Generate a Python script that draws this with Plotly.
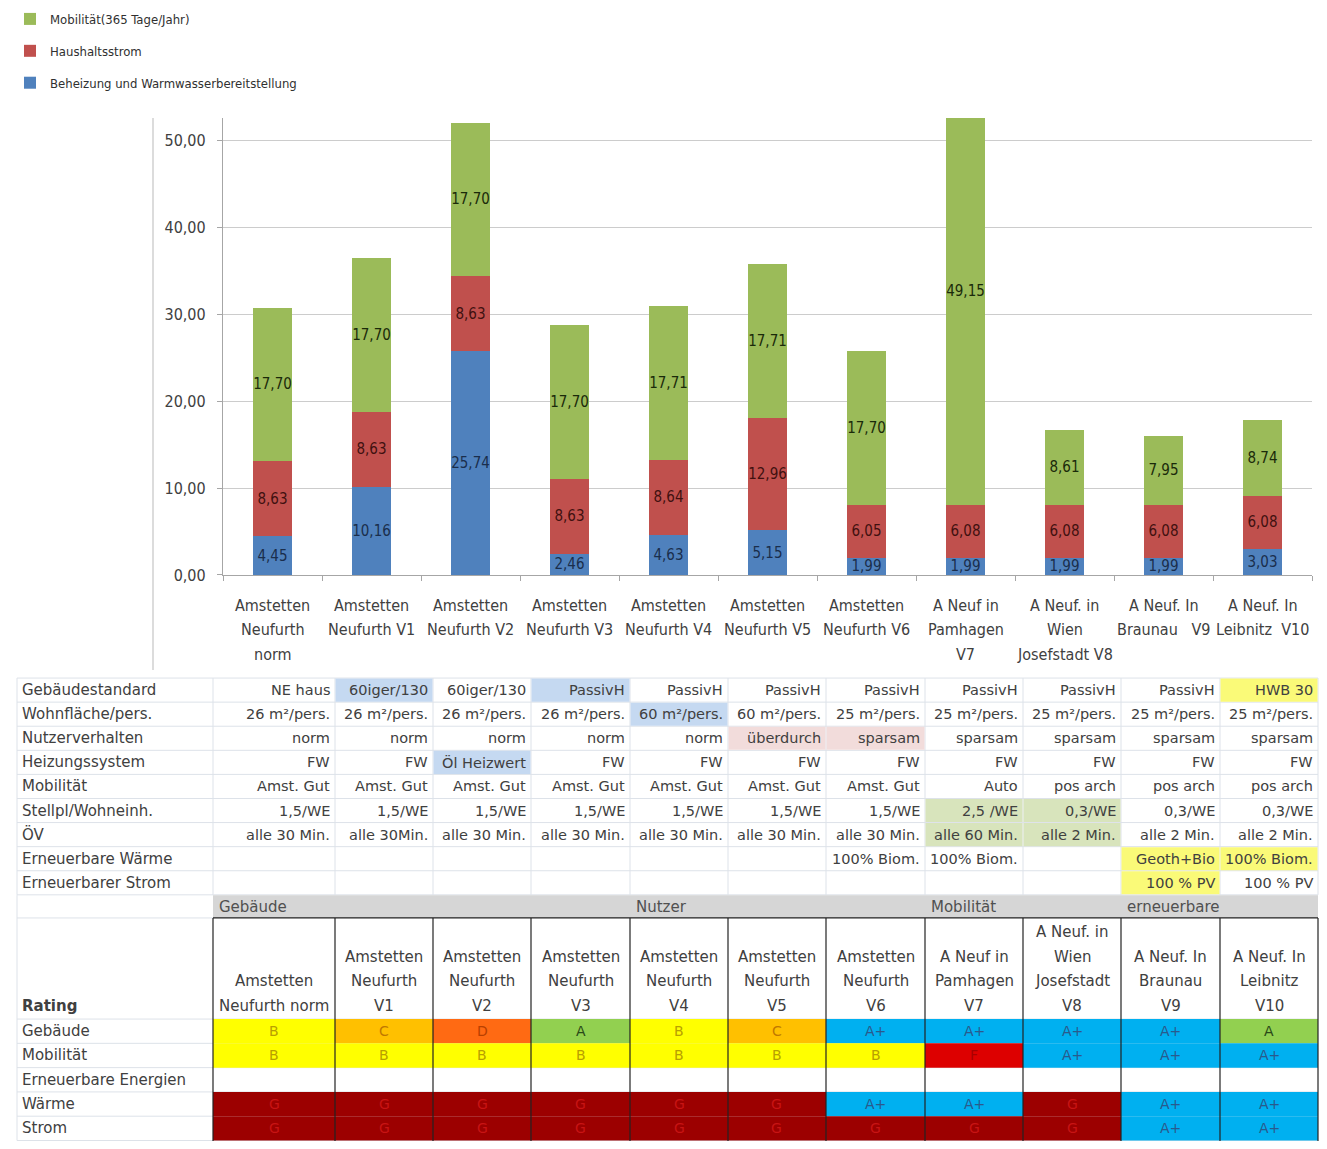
import plotly.graph_objects as go

# ---------------- data ----------------
categories = ["Amstetten Neufurth norm", "Amstetten Neufurth V1", "Amstetten Neufurth V2",
              "Amstetten Neufurth V3", "Amstetten Neufurth V4", "Amstetten Neufurth V5",
              "Amstetten Neufurth V6", "A Neuf in Pamhagen V7", "A Neuf. in Wien Josefstadt V8",
              "A Neuf. In Braunau V9", "A Neuf. In Leibnitz V10"]
category_tick_lines = [["Amstetten", "Neufurth", "norm"],
                       ["Amstetten", "Neufurth V1"],
                       ["Amstetten", "Neufurth V2"],
                       ["Amstetten", "Neufurth V3"],
                       ["Amstetten", "Neufurth V4"],
                       ["Amstetten", "Neufurth V5"],
                       ["Amstetten", "Neufurth V6"],
                       ["A Neuf in", "Pamhagen", "V7"],
                       ["A Neuf. in", "Wien", "Josefstadt V8"],
                       ["A Neuf. In", "Braunau\u00a0\u00a0\u00a0V9"],
                       ["A Neuf. In", "Leibnitz\u00a0\u00a0V10"]]

heizung = [4.45, 10.16, 25.74, 2.46, 4.63, 5.15, 1.99, 1.99, 1.99, 1.99, 3.03]
haushaltsstrom = [8.63, 8.63, 8.63, 8.63, 8.64, 12.96, 6.05, 6.08, 6.08, 6.08, 6.08]
mobilitaet = [17.70, 17.70, 17.70, 17.70, 17.71, 17.71, 17.70, 49.15, 8.61, 7.95, 8.74]
series_names = ["Beheizung und Warmwasserbereitstellung", "Haushaltsstrom", "Mobilität(365 Tage/Jahr)"]
y_ticks = [0, 10, 20, 30, 40, 50]

param_labels = ["Gebäudestandard", "Wohnfläche/pers.", "Nutzerverhalten", "Heizungssystem",
                "Mobilität", "Stellpl/Wohneinh.", "ÖV", "Erneuerbare Wärme", "Erneuerbarer Strom"]
param_rows = [
    ["NE haus", "60iger/130", "60iger/130", "PassivH", "PassivH", "PassivH", "PassivH", "PassivH", "PassivH", "PassivH", "HWB 30"],
    ["26 m²/pers.", "26 m²/pers.", "26 m²/pers.", "26 m²/pers.", "60 m²/pers.", "60 m²/pers.", "25 m²/pers.", "25 m²/pers.", "25 m²/pers.", "25 m²/pers.", "25 m²/pers."],
    ["norm", "norm", "norm", "norm", "norm", "überdurch", "sparsam", "sparsam", "sparsam", "sparsam", "sparsam"],
    ["FW", "FW", "Öl Heizwert", "FW", "FW", "FW", "FW", "FW", "FW", "FW", "FW"],
    ["Amst. Gut", "Amst. Gut", "Amst. Gut", "Amst. Gut", "Amst. Gut", "Amst. Gut", "Amst. Gut", "Auto", "pos arch", "pos arch", "pos arch"],
    ["1,5/WE", "1,5/WE", "1,5/WE", "1,5/WE", "1,5/WE", "1,5/WE", "1,5/WE", "2,5 /WE", "0,3/WE", "0,3/WE", "0,3/WE"],
    ["alle 30 Min.", "alle 30Min.", "alle 30 Min.", "alle 30 Min.", "alle 30 Min.", "alle 30 Min.", "alle 30 Min.", "alle 60 Min.", "alle 2 Min.", "alle 2 Min.", "alle 2 Min."],
    ["", "", "", "", "", "", "100% Biom.", "100% Biom.", "", "Geoth+Bio", "100% Biom."],
    ["", "", "", "", "", "", "", "", "", "100 % PV", "100 % PV"],
]
group_labels = ["Gebäude", "Nutzer", "Mobilität", "erneuerbare"]
group_start_cols = [0, 4, 7, 9]
rating_header_lines = [["Amstetten", "Neufurth norm"],
                       ["Amstetten", "Neufurth", "V1"],
                       ["Amstetten", "Neufurth", "V2"],
                       ["Amstetten", "Neufurth", "V3"],
                       ["Amstetten", "Neufurth", "V4"],
                       ["Amstetten", "Neufurth", "V5"],
                       ["Amstetten", "Neufurth", "V6"],
                       ["A Neuf in", "Pamhagen", "V7"],
                       ["A Neuf. in", "Wien", "Josefstadt", "V8"],
                       ["A Neuf. In", "Braunau", "V9"],
                       ["A Neuf. In", "Leibnitz", "V10"]]
rating_title = "Rating"
rating_labels = ["Gebäude", "Mobilität", "Erneuerbare Energien", "Wärme", "Strom"]
rating_rows = [
    ["B", "C", "D", "A", "B", "C", "A+", "A+", "A+", "A+", "A"],
    ["B", "B", "B", "B", "B", "B", "B", "F", "A+", "A+", "A+"],
    ["", "", "", "", "", "", "", "", "", "", ""],
    ["G", "G", "G", "G", "G", "G", "A+", "A+", "G", "A+", "A+"],
    ["G", "G", "G", "G", "G", "G", "G", "G", "G", "A+", "A+"],
]

# ---------------- styles / layout constants ----------------
W, H = 1327, 1149
CHART_FONT = "DejaVu Sans Condensed, Liberation Sans Narrow, Arial Narrow, sans-serif"
TABLE_FONT = "DejaVu Sans, Liberation Sans, Arial, sans-serif"
TXT = "#404040"
bar_colors = ["#4f81bd", "#c0504d", "#9bbb59"]
bar_text_colors = ["#1a2e4c", "#401010", "#1a2a0a"]
legend_ranks = [3, 2, 1]

highlight_colors = {"blue": "#c5d9f1", "pink": "#f2dcdb", "green": "#d8e4bc", "yellow": "#fafa78"}
param_highlights = {(0, 1): "blue", (0, 3): "blue", (0, 10): "yellow", (1, 4): "blue",
                    (2, 5): "pink", (2, 6): "pink", (3, 2): "blue",
                    (5, 7): "green", (5, 8): "green", (6, 7): "green", (6, 8): "green",
                    (7, 9): "yellow", (7, 10): "yellow", (8, 9): "yellow"}
rating_fill = {"A+": "#00b0f0", "A": "#92d050", "B": "#ffff00", "C": "#ffc000",
               "D": "#ff6a13", "F": "#dd0000", "G": "#9c0000"}
rating_text = {"A+": "#2a5a8c", "A": "#2a4a18", "B": "#b8a000", "C": "#c07800",
               "D": "#b84000", "F": "#a80000", "G": "#c81414"}

col_edges = [213, 335, 433, 531, 630, 728, 826, 925, 1023, 1121, 1220, 1318]
label_x0 = 17
param_top, param_h = 684, 24.3
group_top, group_bot = 903, 926
head_bot = 1028
rate_h = 24.5
GRID = "#dde2e9"


def PX(x):
    return x / W


def PY(y):
    return 1 - y / H


shapes = []
annotations = []


def line(x0, y0, x1, y1, color, width=1):
    shapes.append(dict(type="line", xref="paper", yref="paper", x0=PX(x0), y0=PY(y0),
                       x1=PX(x1), y1=PY(y1), line=dict(color=color, width=width)))


def rect(x0, y0, x1, y1, fill):
    shapes.append(dict(type="rect", xref="paper", yref="paper", x0=PX(x0), y0=PY(y0),
                       x1=PX(x1), y1=PY(y1), fillcolor=fill, line=dict(width=0)))


def text(x, y, s, xanchor="left", size=15, color=TXT, family=TABLE_FONT):
    annotations.append(dict(xref="paper", yref="paper", x=PX(x), y=PY(y), text=s,
                            showarrow=False, xanchor=xanchor, yanchor="middle",
                            font=dict(size=size, color=color, family=family)))


# ---------------- figure: stacked bars ----------------
fig = go.Figure()
for name, vals, col, tcol, rank in zip(series_names, [heizung, haushaltsstrom, mobilitaet],
                                       bar_colors, bar_text_colors, legend_ranks):
    fig.add_trace(go.Bar(
        x=categories, y=vals, name=name, legendgroup=name, legendrank=rank,
        marker=dict(color=col, line=dict(width=0)),
        texttemplate="%{y:.2f}", textposition="inside", insidetextanchor="middle",
        textangle=0, constraintext="none",
        textfont=dict(family=CHART_FONT, size=15, color=tcol),
        hoverinfo="skip",
    ))

for cat, lines_ in zip(categories, category_tick_lines):
    for i, ln in enumerate(lines_):
        annotations.append(dict(xref="x", yref="paper", x=cat, y=PY(611 + 24.5 * i), text=ln,
                                showarrow=False, xanchor="center", yanchor="middle",
                                font=dict(size=16, color=TXT, family=CHART_FONT)))

line(153, 119, 153, 676, "#d0d0d0", 1.5)

# ---------------- parameter table ----------------
n_rows = len(param_rows)
row_edges = [param_top + param_h * i for i in range(n_rows + 1)]
for y in row_edges:
    line(label_x0, y, col_edges[-1], y, GRID)
for x in [label_x0] + col_edges:
    line(x, row_edges[0], x, row_edges[-1], GRID)
for (r, c), key in param_highlights.items():
    rect(col_edges[c] + 0.5, row_edges[r] + 0.5, col_edges[c + 1] - 0.5, row_edges[r + 1] - 0.5,
         highlight_colors[key])
for r, (lab, vals) in enumerate(zip(param_labels, param_rows)):
    yc = (row_edges[r] + row_edges[r + 1]) / 2
    text(label_x0 + 3, yc, lab, "left", 15)
    for c, v in enumerate(vals):
        if v:
            text(col_edges[c + 1] - 3, yc, v, "right", 14.5)

# ---------------- group band ----------------
line(label_x0, group_top, label_x0, head_bot + rate_h * len(rating_rows), GRID)
rect(col_edges[0], group_top, col_edges[-1], group_bot, "#d6d6d6")
for lab, c in zip(group_labels, group_start_cols):
    text(col_edges[c] + 4, (group_top + group_bot) / 2, lab, "left", 15, "#505050")

# ---------------- rating table ----------------
rate_edges = [head_bot + rate_h * i for i in range(len(rating_rows) + 1)]
for y in [group_bot] + rate_edges:
    line(label_x0, y, col_edges[0], y, GRID)
for y in rate_edges:
    line(col_edges[0], y, col_edges[-1], y, GRID)
for r, vals in enumerate(rating_rows):
    for c, v in enumerate(vals):
        if v:
            rect(col_edges[c], rate_edges[r], col_edges[c + 1], rate_edges[r + 1], rating_fill[v])
line(col_edges[0], group_bot, col_edges[-1], group_bot, "#222222", 1.2)
for x in col_edges:
    line(x, group_bot, x, H + 2, "#222222", 1.2)
for c, lines_ in enumerate(rating_header_lines):
    xc = (col_edges[c] + col_edges[c + 1]) / 2
    n = len(lines_)
    for i, ln in enumerate(lines_):
        text(xc, 1015 - 25 * (n - 1 - i), ln, "center", 15)
text(label_x0 + 3, 1015, "<b>" + rating_title + "</b>", "left", 15)
for r, (lab, vals) in enumerate(zip(rating_labels, rating_rows)):
    yc = (rate_edges[r] + rate_edges[r + 1]) / 2
    text(label_x0 + 3, yc, lab, "left", 15)
    for c, v in enumerate(vals):
        if v:
            xc = (col_edges[c] + col_edges[c + 1]) / 2
            text(xc, yc, v, "center", 14, rating_text[v])

fig.update_layout(
    width=W, height=H, margin=dict(l=0, r=0, t=0, b=0),
    paper_bgcolor="white", plot_bgcolor="white",
    barmode="stack", bargap=0.6, separators=",.",
    font=dict(family=CHART_FONT, color=TXT),
    xaxis=dict(domain=[PX(223), PX(1312)], showticklabels=False, showline=True,
               linecolor="#a6a6a6", linewidth=1.2, ticks="outside", tickson="boundaries",
               ticklen=5, tickcolor="#a6a6a6", showgrid=False, zeroline=False,
               fixedrange=True),
    yaxis=dict(domain=[PY(580), PY(119)], range=[0, 52.6], tickvals=y_ticks,
               tickformat=".2f", showline=True, linecolor="#a6a6a6", linewidth=1.2,
               ticks="outside", ticklen=5, tickcolor="#a6a6a6", ticklabelstandoff=8,
               showgrid=True, gridcolor="#cccccc", gridwidth=1.2, zeroline=False,
               tickfont=dict(size=16, color=TXT, family=CHART_FONT), fixedrange=True),
    legend=dict(x=PX(10), y=PY(4), xanchor="left", yanchor="top",
                traceorder="grouped", tracegroupgap=12,
                bgcolor="rgba(0,0,0,0)", font=dict(size=13, color="#303030", family=CHART_FONT)),
    shapes=shapes, annotations=annotations,
)

fig.write_html("out.html", config={"displayModeBar": False},
               post_script="document.body.style.margin='0';document.body.style.overflow='hidden';")
